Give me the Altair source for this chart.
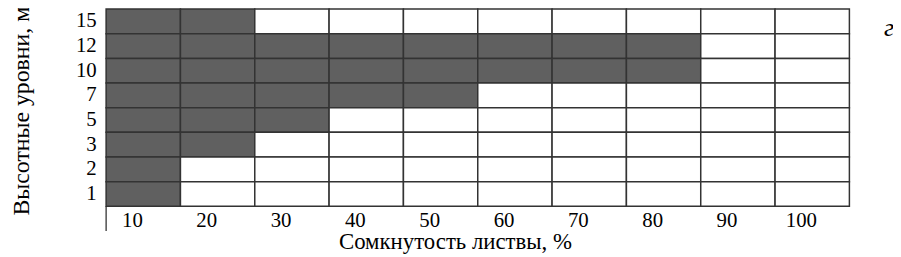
import altair as alt
import pandas as pd

cover = [10, 20, 30, 40, 50, 60, 70, 80, 90, 100]
levels = [15, 12, 10, 7, 5, 3, 2, 1]
max_filled_cover = [20, 80, 80, 50, 30, 20, 10, 10]

rows = []
for lv, mc in zip(levels, max_filled_cover):
    for c in cover:
        rows.append({"cover": str(c), "level": str(lv), "filled": c <= mc})
df = pd.DataFrame(rows)

W = 750
H = 199
font = "'Liberation Serif', 'Times New Roman', serif"

rect = alt.Chart(df).mark_rect(stroke="#333333", strokeWidth=1.5).encode(
    x=alt.X(
        "cover:O",
        sort=[str(c) for c in cover],
        scale=alt.Scale(paddingInner=0, paddingOuter=0),
        axis=alt.Axis(
            title="Сомкнутость листвы, %",
            labelAngle=0, ticks=False, domain=False, grid=False,
            labelFont=font, labelFontSize=21, labelColor="black",
            labelPadding=3, labelOffset=-11,
            titleFont=font, titleFontSize=23, titleFontWeight="normal",
            titleColor="black", titleX=352, titleY=43, titleBaseline="alphabetic",
        ),
    ),
    y=alt.Y(
        "level:O",
        sort=[str(l) for l in levels],
        scale=alt.Scale(paddingInner=0, paddingOuter=0),
        axis=alt.Axis(
            title="Высотные уровни, м",
            ticks=False, domain=False, grid=False,
            labelFont=font, labelFontSize=21, labelColor="black", labelPadding=10,
            titleFont=font, titleFontSize=24, titleFontWeight="normal",
            titleColor="black", titleAngle=-90, titleX=-85, titleY=H / 2 + 3,
            titleBaseline="middle", titleAlign="center",
        ),
    ),
    fill=alt.condition(alt.datum.filled, alt.value("#606060"), alt.value("white")),
)

left_line = alt.Chart(pd.DataFrame({"a": [0]})).mark_rule(color="#222222", strokeWidth=1.2).encode(
    x=alt.value(0), y=alt.value(H), y2=alt.value(H + 25)
)

label_g = alt.Chart(pd.DataFrame({"a": [0]})).mark_text(
    text="г", font=font, fontStyle="italic", fontSize=26, color="black"
).encode(x=alt.value(790), y=alt.value(19))

chart = alt.layer(rect, left_line, label_g).properties(
    width=W, height=H,
    autosize=alt.AutoSizeParams(type="none"),
    padding={"left": 99, "top": 0, "right": 44, "bottom": 48},
).configure_view(stroke=None)

chart.save("out.html", embed_options={"renderer": "svg", "actions": False})
